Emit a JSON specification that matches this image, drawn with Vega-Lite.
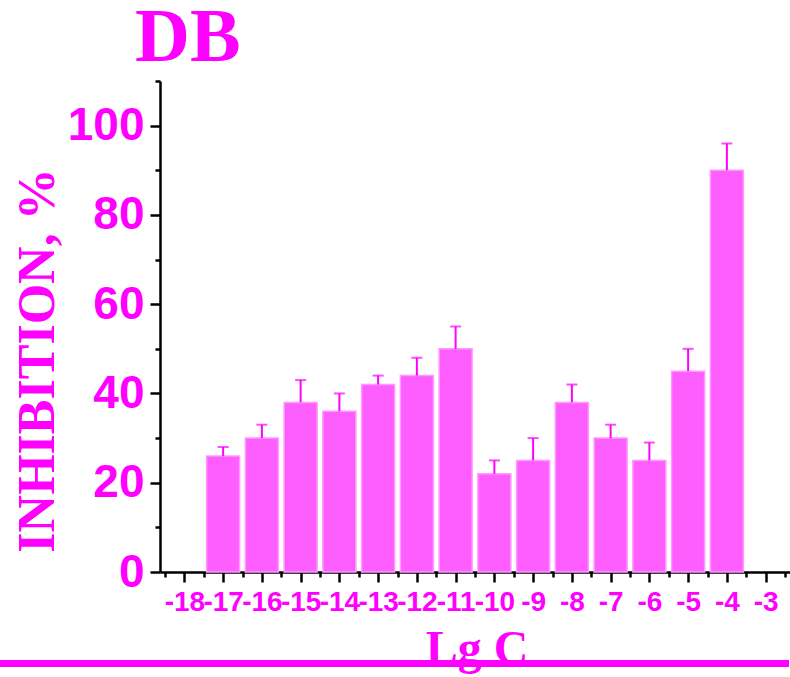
{
  "$schema": "https://vega.github.io/schema/vega-lite/v6.json",
  "width": 630,
  "height": 491,
  "autosize": {"type": "none"},
  "padding": {"left": 160, "top": 81, "right": 0, "bottom": 105},
  "background": "white",
  "title": {
    "text": "DB",
    "font": "Liberation Serif",
    "fontSize": 76,
    "fontWeight": "bold",
    "color": "#FF00FF",
    "anchor": "start",
    "frame": "group",
    "dx": -25,
    "dy": 15,
    "offset": 18
  },
  "config": {
    "view": {"stroke": null},
    "axis": {
      "grid": false,
      "domainColor": "black",
      "domainWidth": 2.5,
      "tickColor": "black",
      "tickWidth": 2.5,
      "labelColor": "#FF00FF",
      "titleColor": "#FF00FF"
    }
  },
  "data": {
    "values": [
      {"x": -17, "v": 26, "up": 28},
      {"x": -16, "v": 30, "up": 33},
      {"x": -15, "v": 38, "up": 43},
      {"x": -14, "v": 36, "up": 40},
      {"x": -13, "v": 42, "up": 44},
      {"x": -12, "v": 44, "up": 48},
      {"x": -11, "v": 50, "up": 55},
      {"x": -10, "v": 22, "up": 25},
      {"x": -9, "v": 25, "up": 30},
      {"x": -8, "v": 38, "up": 42},
      {"x": -7, "v": 30, "up": 33},
      {"x": -6, "v": 25, "up": 29},
      {"x": -5, "v": 45, "up": 50},
      {"x": -4, "v": 90, "up": 96}
    ]
  },
  "resolve": {"axis": {"x": "independent", "y": "independent"}},
  "layer": [
    {
      "mark": {"type": "bar", "size": 33, "fill": "#FF5EFF", "stroke": "#FF99FF", "strokeWidth": 1.5},
      "encoding": {
        "x": {
          "field": "x",
          "type": "quantitative",
          "scale": {"domain": [-18.5, -2.5], "nice": false, "zero": false},
          "axis": {
            "orient": "bottom",
            "values": [-18, -17, -16, -15, -14, -13, -12, -11, -10, -9, -8, -7, -6, -5, -4, -3],
            "labelExpr": "'-' + abs(datum.value)",
            "tickSize": 10,
            "labelFont": "Liberation Sans",
            "labelFontWeight": "bold",
            "labelFontSize": 28,
            "labelPadding": 6,
            "labelOverlap": false,
            "labelFlush": false,
            "title": "Lg C",
            "titleFont": "Liberation Serif",
            "titleFontWeight": "bold",
            "titleFontSize": 48,
            "titleX": 316.5,
            "titleY": 91,
            "titleAlign": "center",
            "titleBaseline": "alphabetic"
          }
        },
        "y": {
          "field": "v",
          "type": "quantitative",
          "scale": {"domain": [0, 110], "nice": false},
          "axis": {
            "orient": "left",
            "values": [0, 20, 40, 60, 80, 100],
            "tickSize": 10,
            "labelFont": "Liberation Sans",
            "labelFontWeight": "bold",
            "labelFontSize": 46,
            "labelPadding": 6,
            "labelOverlap": false,
            "labelFlush": false,
            "title": "INHIBITION, %",
            "titleFont": "Liberation Serif",
            "titleFontWeight": "bold",
            "titleFontSize": 52,
            "titleAngle": 270,
            "titleX": -107,
            "titleY": 279,
            "titleAlign": "center",
            "titleBaseline": "alphabetic"
          }
        }
      }
    },
    {
      "mark": {"type": "rule", "color": "#FF00FF", "strokeWidth": 2},
      "encoding": {
        "x": {
          "field": "x",
          "type": "quantitative",
          "axis": {
            "orient": "bottom",
            "values": [-18.5, -17.5, -16.5, -15.5, -14.5, -13.5, -12.5, -11.5, -10.5, -9.5, -8.5, -7.5, -6.5, -5.5, -4.5, -3.5, -2.5],
            "tickSize": 5,
            "labels": false,
            "domain": false,
            "title": null
          }
        },
        "y": {
          "field": "v",
          "type": "quantitative",
          "axis": {
            "orient": "left",
            "values": [10, 30, 50, 70, 90, 110],
            "tickSize": 5,
            "labels": false,
            "domain": false,
            "title": null
          }
        },
        "y2": {"field": "up"}
      }
    },
    {
      "mark": {"type": "tick", "color": "#FF00FF", "thickness": 2, "size": 11, "orient": "horizontal"},
      "encoding": {
        "x": {"field": "x", "type": "quantitative", "axis": null},
        "y": {"field": "up", "type": "quantitative", "axis": null}
      }
    },
    {
      "mark": {"type": "rule", "color": "#FF00FF", "strokeWidth": 6, "clip": false},
      "encoding": {
        "x": {"datum": -22.8, "type": "quantitative", "axis": null},
        "x2": {"datum": -2.4},
        "y": {"datum": -20.5, "type": "quantitative", "axis": null}
      }
    }
  ]
}
